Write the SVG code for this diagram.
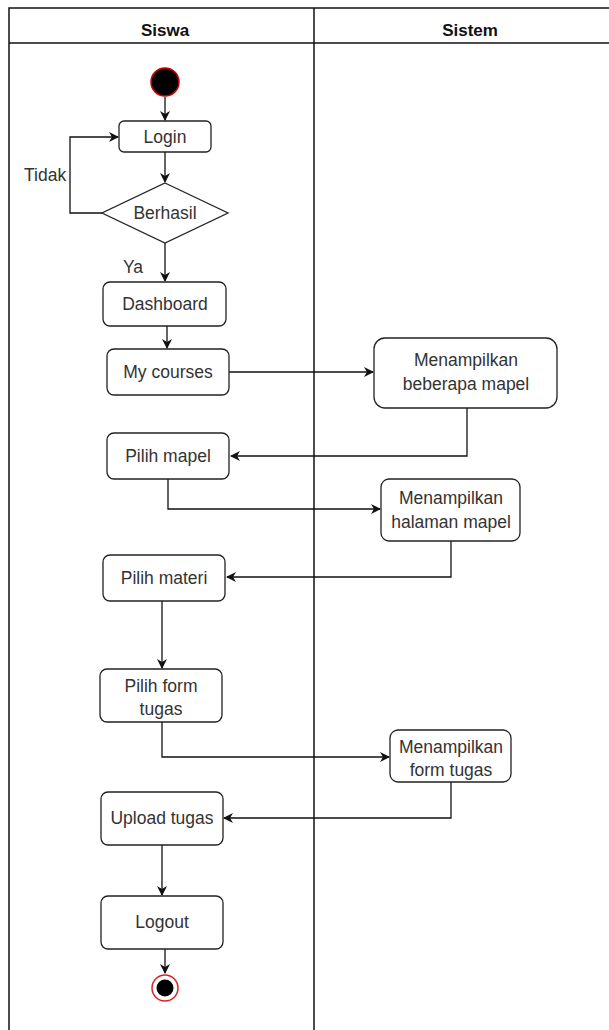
<svg xmlns="http://www.w3.org/2000/svg" width="609" height="1030" viewBox="0 0 609 1030">
  <style>
    .lane { fill: none; stroke: #111; stroke-width: 1.5; }
    .hdr { font-family: "Liberation Sans", Arial, sans-serif; font-size: 17px; font-weight: bold; fill: #111; text-anchor: middle; }
    .box { fill: #fff; stroke: #222; stroke-width: 1.3; }
    .lbl { font-family: "Liberation Sans", Arial, sans-serif; font-size: 17.5px; fill: #333; text-anchor: middle; }
    .edge { fill: none; stroke: #111; stroke-width: 1.3; marker-end: url(#arrow); }
    .txt { font-family: "Liberation Sans", Arial, sans-serif; font-size: 17.5px; fill: #333; }
  </style>
  <defs>
    <marker id="arrow" viewBox="0 0 10 10" refX="9" refY="5" markerWidth="10" markerHeight="10" markerUnits="userSpaceOnUse" orient="auto">
      <path d="M0,0 L10,5 L0,10 L3,5 Z" fill="#111"/>
    </marker>
  </defs>
  <rect width="609" height="1030" fill="#fff"/>

  <!-- swimlanes -->
  <g id="lanes">
    <rect class="lane" x="9" y="8" width="620" height="1040"/>
    <line class="lane" x1="9" y1="43" x2="609" y2="43"/>
    <line class="lane" x1="314" y1="8" x2="314" y2="1030" stroke="#333"/>
    <text class="hdr" x="165" y="36">Siswa</text>
    <text class="hdr" x="470" y="36">Sistem</text>
  </g>

  <!-- connectors -->
  <g id="connectors">
    <path class="edge" d="M165,97 V120"/>
    <path class="edge" d="M165,152 V182"/>
    <path class="edge" d="M102,213 H70 V137 H118"/>
    <path class="edge" d="M165,243 V281"/>
    <path class="edge" d="M167,326 V348"/>
    <path class="edge" d="M229,372 H373"/>
    <path class="edge" d="M467,408 V456 H231"/>
    <path class="edge" d="M168,479 V509 H380"/>
    <path class="edge" d="M451,541 V577 H227"/>
    <path class="edge" d="M162,601 V668"/>
    <path class="edge" d="M162,722 V757 H389"/>
    <path class="edge" d="M451,782 V818 H224"/>
    <path class="edge" d="M162,845 V895"/>
    <path class="edge" d="M165,949 V973"/>
    <text class="txt" x="24" y="181">Tidak</text>
    <text class="txt" x="123" y="273">Ya</text>
  </g>

  <g id="start">
    <circle cx="165" cy="82" r="14" fill="#000" stroke="#c00" stroke-width="1.5"/>
  </g>

  <g id="login">
    <rect class="box" x="119" y="121" width="92" height="31" rx="5"/>
    <text class="lbl" x="165" y="143">Login</text>
  </g>

  <g id="berhasil">
    <polygon class="box" points="165,183 228,213 165,243 102,213"/>
    <text class="lbl" x="165" y="219">Berhasil</text>
  </g>

  <g id="dashboard">
    <rect class="box" x="103" y="282" width="123" height="44" rx="7"/>
    <text class="lbl" x="165" y="310">Dashboard</text>
  </g>

  <g id="my-courses">
    <rect class="box" x="107" y="349" width="122" height="46" rx="7"/>
    <text class="lbl" x="168" y="378">My courses</text>
  </g>

  <g id="tampil-mapel">
    <rect class="box" x="374" y="338" width="183" height="70" rx="11"/>
    <text class="lbl" x="466" y="366">Menampilkan</text>
    <text class="lbl" x="466" y="390">beberapa mapel</text>
  </g>

  <g id="pilih-mapel">
    <rect class="box" x="107" y="433" width="122" height="46" rx="7"/>
    <text class="lbl" x="168" y="462">Pilih mapel</text>
  </g>

  <g id="tampil-halaman">
    <rect class="box" x="381" y="479" width="139" height="62" rx="8"/>
    <text class="lbl" x="451" y="504">Menampilkan</text>
    <text class="lbl" x="451" y="528">halaman mapel</text>
  </g>

  <g id="pilih-materi">
    <rect class="box" x="103" y="555" width="122" height="46" rx="7"/>
    <text class="lbl" x="164" y="584">Pilih materi</text>
  </g>

  <g id="pilih-form">
    <rect class="box" x="100" y="669" width="122" height="53" rx="7"/>
    <text class="lbl" x="161" y="692">Pilih form</text>
    <text class="lbl" x="161" y="715">tugas</text>
  </g>

  <g id="tampil-form">
    <rect class="box" x="390" y="730" width="121" height="52" rx="8"/>
    <text class="lbl" x="451" y="753">Menampilkan</text>
    <text class="lbl" x="451" y="776">form tugas</text>
  </g>

  <g id="upload">
    <rect class="box" x="101" y="792" width="122" height="53" rx="7"/>
    <text class="lbl" x="162" y="824">Upload tugas</text>
  </g>

  <g id="logout">
    <rect class="box" x="101" y="896" width="122" height="53" rx="7"/>
    <text class="lbl" x="162" y="928">Logout</text>
  </g>

  <g id="end">
    <circle cx="165" cy="988" r="13" fill="#fff" stroke="#d22" stroke-width="1.5"/>
    <circle cx="165" cy="988" r="8.5" fill="#000"/>
  </g>
</svg>
